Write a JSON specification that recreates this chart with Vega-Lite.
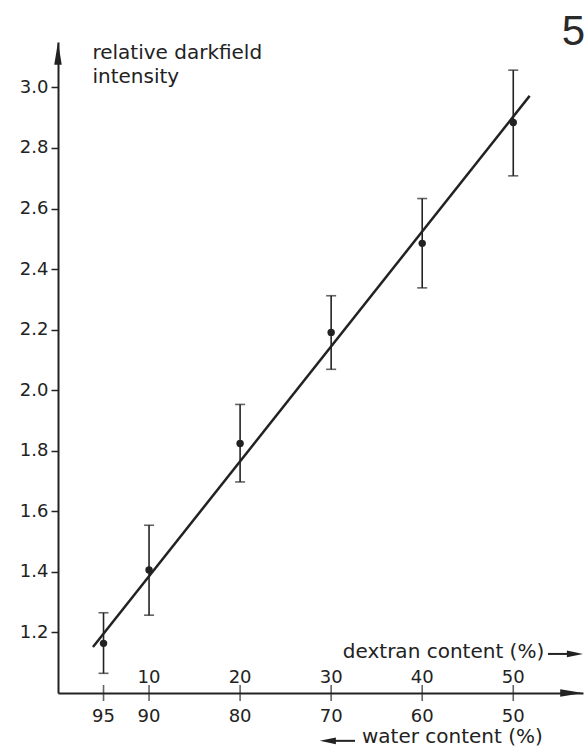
{
  "$schema": "https://vega.github.io/schema/vega-lite/v6.json",
  "width": 525,
  "height": 651,
  "autosize": {"type": "none"},
  "padding": {"left": 58, "top": 42, "right": 4, "bottom": 59},
  "background": "white",
  "config": {
    "view": {"stroke": null},
    "font": "DejaVu Sans",
    "text": {"font": "DejaVu Sans", "color": "#222222"}
  },
  "layer": [
    {
      "data": {"values": [
        {"dextran": 5, "intensity": 1.164, "lo": 1.065, "hi": 1.265},
        {"dextran": 10, "intensity": 1.406, "lo": 1.257, "hi": 1.554},
        {"dextran": 20, "intensity": 1.824, "lo": 1.697, "hi": 1.953},
        {"dextran": 30, "intensity": 2.191, "lo": 2.069, "hi": 2.312},
        {"dextran": 40, "intensity": 2.485, "lo": 2.338, "hi": 2.633},
        {"dextran": 50, "intensity": 2.884, "lo": 2.708, "hi": 3.057}
      ]},
      "layer": [
        {
          "mark": {"type": "point", "filled": true, "shape": "circle", "size": 55, "color": "#222222", "opacity": 1},
          "encoding": {
            "x": {"field": "dextran", "type": "quantitative", "title": null, "scale": {"domain": [0, 57.66], "nice": false, "zero": false},
              "axis": {"labels": false, "ticks": false, "grid": false, "title": null, "domainWidth": 2, "domainColor": "#222222"}},
            "y": {"field": "intensity", "type": "quantitative", "title": null, "scale": {"domain": [1, 3.15], "nice": false, "zero": false},
              "axis": {"values": [1.2, 1.4, 1.6, 1.8, 2.0, 2.2, 2.4, 2.6, 2.8, 3.0], "format": ".1f", "grid": false, "title": null,
                "domainWidth": 2, "domainColor": "#222222", "tickSize": 7, "tickWidth": 1.5, "tickColor": "#222222",
                "labelFont": "DejaVu Sans", "labelFontSize": 18, "labelColor": "#222222", "labelPadding": 3}}
          }
        },
        {
          "mark": {"type": "rule", "color": "#222222", "strokeWidth": 1.6},
          "encoding": {
            "x": {"field": "dextran", "type": "quantitative", "title": null, "scale": {"domain": [0, 57.66], "nice": false, "zero": false}},
            "y": {"field": "lo", "type": "quantitative", "title": null, "scale": {"domain": [1, 3.15], "nice": false, "zero": false}},
            "y2": {"field": "hi"}
          }
        },
        {
          "mark": {"type": "tick", "orient": "horizontal", "color": "#222222", "size": 10, "thickness": 1.6},
          "encoding": {
            "x": {"field": "dextran", "type": "quantitative", "title": null, "scale": {"domain": [0, 57.66], "nice": false, "zero": false}},
            "y": {"field": "lo", "type": "quantitative", "title": null, "scale": {"domain": [1, 3.15], "nice": false, "zero": false}}
          }
        },
        {
          "mark": {"type": "tick", "orient": "horizontal", "color": "#222222", "size": 10, "thickness": 1.6},
          "encoding": {
            "x": {"field": "dextran", "type": "quantitative", "title": null, "scale": {"domain": [0, 57.66], "nice": false, "zero": false}},
            "y": {"field": "hi", "type": "quantitative", "title": null, "scale": {"domain": [1, 3.15], "nice": false, "zero": false}}
          }
        }
      ]
    },
    {
      "data": {"values": [
        {"dextran": 3.84, "intensity": 1.152},
        {"dextran": 51.8, "intensity": 2.972}
      ]},
      "mark": {"type": "line", "color": "#222222", "strokeWidth": 2.5},
      "encoding": {
        "x": {"field": "dextran", "type": "quantitative", "title": null, "scale": {"domain": [0, 57.66], "nice": false, "zero": false}},
        "y": {"field": "intensity", "type": "quantitative", "title": null, "scale": {"domain": [1, 3.15], "nice": false, "zero": false}}
      }
    },
    {
      "data": {"values": [
        {"dextran": 5, "intensity": 1, "water": "95", "dexLabel": ""},
        {"dextran": 10, "intensity": 1, "water": "90", "dexLabel": "10"},
        {"dextran": 20, "intensity": 1, "water": "80", "dexLabel": "20"},
        {"dextran": 30, "intensity": 1, "water": "70", "dexLabel": "30"},
        {"dextran": 40, "intensity": 1, "water": "60", "dexLabel": "40"},
        {"dextran": 50, "intensity": 1, "water": "50", "dexLabel": "50"}
      ]},
      "encoding": {
        "x": {"field": "dextran", "type": "quantitative", "title": null, "scale": {"domain": [0, 57.66], "nice": false, "zero": false}},
        "y": {"field": "intensity", "type": "quantitative", "title": null, "scale": {"domain": [1, 3.15], "nice": false, "zero": false}}
      },
      "layer": [
        {"mark": {"type": "tick", "orient": "vertical", "color": "#222222", "size": 16, "thickness": 1.6}},
        {"mark": {"type": "text", "fontSize": 18, "align": "center", "baseline": "alphabetic", "dy": -10}, "encoding": {"text": {"field": "dexLabel"}}},
        {"mark": {"type": "text", "fontSize": 18, "align": "center", "baseline": "alphabetic", "dy": 29}, "encoding": {"text": {"field": "water"}}}
      ]
    },
    {
      "data": {"values": [
        {"dextran": 3.78, "intensity": 3.093, "label": "relative darkfield"},
        {"dextran": 3.78, "intensity": 3.015, "label": "intensity"}
      ]},
      "mark": {"type": "text", "fontSize": 20, "align": "left", "baseline": "alphabetic"},
      "encoding": {
        "x": {"field": "dextran", "type": "quantitative", "title": null, "scale": {"domain": [0, 57.66], "nice": false, "zero": false}},
        "y": {"field": "intensity", "type": "quantitative", "title": null, "scale": {"domain": [1, 3.15], "nice": false, "zero": false}},
        "text": {"field": "label"}
      }
    },
    {
      "data": {"values": [
        {"dextran": 53.4, "intensity": 1.116, "label": "dextran content (%)"},
        {"dextran": 53.25, "intensity": 0.834, "label": "water content (%)"}
      ]},
      "mark": {"type": "text", "fontSize": 20, "align": "right", "baseline": "alphabetic"},
      "encoding": {
        "x": {"field": "dextran", "type": "quantitative", "title": null, "scale": {"domain": [0, 57.66], "nice": false, "zero": false}},
        "y": {"field": "intensity", "type": "quantitative", "title": null, "scale": {"domain": [1, 3.15], "nice": false, "zero": false}},
        "text": {"field": "label"}
      }
    },
    {
      "data": {"values": [
        {"dextran": 57.88, "intensity": 3.14, "label": "5"}
      ]},
      "mark": {"type": "text", "fontSize": 42, "font": "Liberation Sans", "align": "right", "baseline": "alphabetic", "color": "#2a2a2a"},
      "encoding": {
        "x": {"field": "dextran", "type": "quantitative", "title": null, "scale": {"domain": [0, 57.66], "nice": false, "zero": false}},
        "y": {"field": "intensity", "type": "quantitative", "title": null, "scale": {"domain": [1, 3.15], "nice": false, "zero": false}},
        "text": {"field": "label"}
      }
    },
    {
      "data": {"values": [
        {"dextran": 53.81, "end": 57.0, "intensity": 1.129},
        {"dextran": 29.6, "end": 32.62, "intensity": 0.842}
      ]},
      "mark": {"type": "rule", "color": "#222222", "strokeWidth": 2},
      "encoding": {
        "x": {"field": "dextran", "type": "quantitative", "title": null, "scale": {"domain": [0, 57.66], "nice": false, "zero": false}},
        "x2": {"field": "end"},
        "y": {"field": "intensity", "type": "quantitative", "title": null, "scale": {"domain": [1, 3.15], "nice": false, "zero": false}}
      }
    },
    {
      "data": {"values": [
        {"dextran": 57.66, "intensity": 1.129}
      ]},
      "mark": {"type": "point", "filled": true, "opacity": 1, "color": "#222222", "strokeWidth": 0, "size": 260, "shape": "M0,0L-2,-0.42L-2,0.42Z"},
      "encoding": {
        "x": {"field": "dextran", "type": "quantitative", "title": null, "scale": {"domain": [0, 57.66], "nice": false, "zero": false}},
        "y": {"field": "intensity", "type": "quantitative", "title": null, "scale": {"domain": [1, 3.15], "nice": false, "zero": false}}
      }
    },
    {
      "data": {"values": [
        {"dextran": 28.75, "intensity": 0.842}
      ]},
      "mark": {"type": "point", "filled": true, "opacity": 1, "color": "#222222", "strokeWidth": 0, "size": 260, "shape": "M0,0L2,-0.42L2,0.42Z"},
      "encoding": {
        "x": {"field": "dextran", "type": "quantitative", "title": null, "scale": {"domain": [0, 57.66], "nice": false, "zero": false}},
        "y": {"field": "intensity", "type": "quantitative", "title": null, "scale": {"domain": [1, 3.15], "nice": false, "zero": false}}
      }
    },
    {
      "data": {"values": [
        {"dextran": 57.66, "intensity": 1}
      ]},
      "mark": {"type": "point", "filled": true, "opacity": 1, "color": "#222222", "strokeWidth": 0, "size": 520, "shape": "M0,0L-2,-0.33L-2,0.33Z"},
      "encoding": {
        "x": {"field": "dextran", "type": "quantitative", "title": null, "scale": {"domain": [0, 57.66], "nice": false, "zero": false}},
        "y": {"field": "intensity", "type": "quantitative", "title": null, "scale": {"domain": [1, 3.15], "nice": false, "zero": false}}
      }
    },
    {
      "data": {"values": [
        {"dextran": 0, "intensity": 3.15}
      ]},
      "mark": {"type": "point", "filled": true, "opacity": 1, "color": "#222222", "strokeWidth": 0, "size": 520, "shape": "M0,0L-0.33,2L0.33,2Z"},
      "encoding": {
        "x": {"field": "dextran", "type": "quantitative", "title": null, "scale": {"domain": [0, 57.66], "nice": false, "zero": false}},
        "y": {"field": "intensity", "type": "quantitative", "title": null, "scale": {"domain": [1, 3.15], "nice": false, "zero": false}}
      }
    }
  ]
}
